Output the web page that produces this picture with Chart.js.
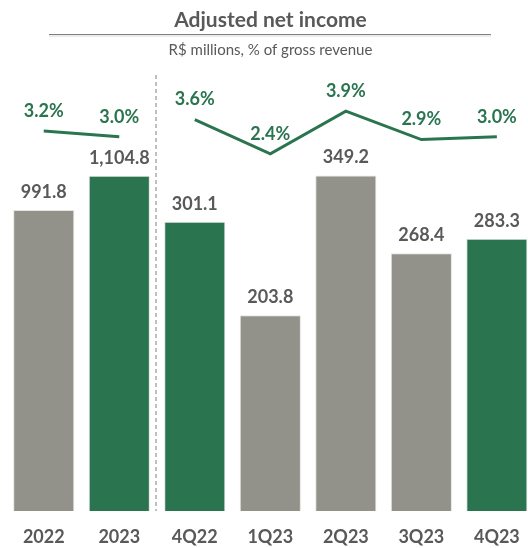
<!DOCTYPE html>
<html>
<head>
<meta charset="utf-8">
<script src="https://cdn.jsdelivr.net/npm/chart.js@4.4.1/dist/chart.umd.min.js"></script>
<style>
  html, body { margin: 0; padding: 0; background: #fff; overflow: hidden; }
  #wrap { width: 535px; height: 548px; }
</style>
</head>
<body>
<div id="wrap"><canvas id="incomeChart" width="535" height="548"></canvas></div>
<script>
// categories and values
const periods = ["2022", "2023", "4Q22", "1Q23", "2Q23", "3Q23", "4Q23"];
const annualIncome = [991.8, 1104.8, null, null, null, null, null];
const quarterlyIncome = [null, null, 301.1, 203.8, 349.2, 268.4, 283.3];
const annualMargin = [3.2, 3.0, null, null, null, null, null];
const quarterlyMargin = [null, null, 3.6, 2.4, 3.9, 2.9, 3.0];
const highlight = [false, true, true, false, false, false, true];

const GREEN = "#2a7550";
const GRAY = "#92928a";
const TEXT = "#595959";
const FONT = "Lato, 'Open Sans', sans-serif";

const barColors = highlight.map(h => (h ? GREEN : GRAY));

// value labels, title rule and the annual / quarterly divider
const decorations = {
    id: "decorations",
    afterDatasetsDraw(chart) {
        const ctx = chart.ctx;
        ctx.save();
        ctx.textAlign = "center";
        ctx.textBaseline = "middle";
        ctx.font = "bold 18px " + FONT;
        chart.data.datasets.forEach((ds, i) => {
            const meta = chart.getDatasetMeta(i);
            meta.data.forEach((el, j) => {
                const v = ds.data[j];
                if (v == null) return;
                if (ds.type === "line") {
                    ctx.fillStyle = GREEN;
                    ctx.fillText(v.toFixed(1) + "%", el.x, el.y - 20);
                } else {
                    ctx.fillStyle = TEXT;
                    const txt = v.toLocaleString("en-US", { minimumFractionDigits: 1, maximumFractionDigits: 1 });
                    ctx.fillText(txt, el.x, el.y - 18);
                }
            });
        });

        // dashed divider between the two groups
        const x = chart.scales.x;
        const xd = (x.getPixelForValue(1) + x.getPixelForValue(2)) / 2 - 1;
        ctx.strokeStyle = "#7f7f7f";
        ctx.lineWidth = 1;
        ctx.setLineDash([4, 3]);
        ctx.beginPath();
        ctx.moveTo(xd, 75);
        ctx.lineTo(xd, chart.chartArea.bottom);
        ctx.stroke();
        ctx.setLineDash([]);

        // rule under the title
        ctx.strokeStyle = "#ececec";
        ctx.lineWidth = 2;
        ctx.beginPath();
        ctx.moveTo(49, 36);
        ctx.lineTo(491, 36);
        ctx.stroke();
        ctx.strokeStyle = "#7f7f7f";
        ctx.lineWidth = 1.2;
        ctx.beginPath();
        ctx.moveTo(49, 34.5);
        ctx.lineTo(491, 34.5);
        ctx.stroke();
        ctx.restore();
    }
};

new Chart(document.getElementById("incomeChart"), {
    data: {
        labels: periods,
        datasets: [
            {
                type: "line",
                data: annualMargin,
                yAxisID: "yPct",
                borderColor: GREEN,
                borderWidth: 3,
                pointRadius: 0,
                spanGaps: false
            },
            {
                type: "line",
                data: quarterlyMargin,
                yAxisID: "yPct",
                borderColor: GREEN,
                borderWidth: 3,
                pointRadius: 0,
                spanGaps: false
            },
            {
                type: "bar",
                data: annualIncome,
                yAxisID: "yYear",
                backgroundColor: barColors,
                borderColor: "#e4e4e0",
                borderWidth: 1,
                grouped: false,
                barPercentage: 0.81,
                categoryPercentage: 1
            },
            {
                type: "bar",
                data: quarterlyIncome,
                yAxisID: "yQuarter",
                backgroundColor: barColors,
                borderColor: "#e4e4e0",
                borderWidth: 1,
                grouped: false,
                barPercentage: 0.81,
                categoryPercentage: 1
            }
        ]
    },
    options: {
        responsive: false,
        animation: false,
        layout: { padding: { left: 6, right: 0, top: 0, bottom: 0 } },
        plugins: {
            legend: { display: false },
            tooltip: { enabled: false },
            title: {
                display: true,
                text: "Adjusted net income",
                color: TEXT,
                font: { family: FONT, size: 21, weight: "bold", lineHeight: 1.2 },
                padding: { top: 7.4, bottom: 8.4 }
            },
            subtitle: {
                display: true,
                text: "R$ millions, % of gross revenue",
                color: TEXT,
                font: { family: FONT, size: 15, weight: "normal", lineHeight: 1.2 },
                padding: { top: 0, bottom: 12 }
            }
        },
        scales: {
            x: {
                grid: { display: false, drawTicks: false },
                border: { display: false },
                ticks: {
                    color: TEXT,
                    padding: 15.2,
                    font: { family: FONT, size: 18, weight: "bold" }
                },
                afterFit: (scale) => { scale.height = 37; }
            },
            yYear: { display: false, min: 0, max: 1450 },
            yQuarter: { display: false, min: 0, max: 458 },
            yPct: { display: false, min: -10.16, max: 5.31 }
        }
    },
    plugins: [decorations]
});
</script>
</body>
</html>
